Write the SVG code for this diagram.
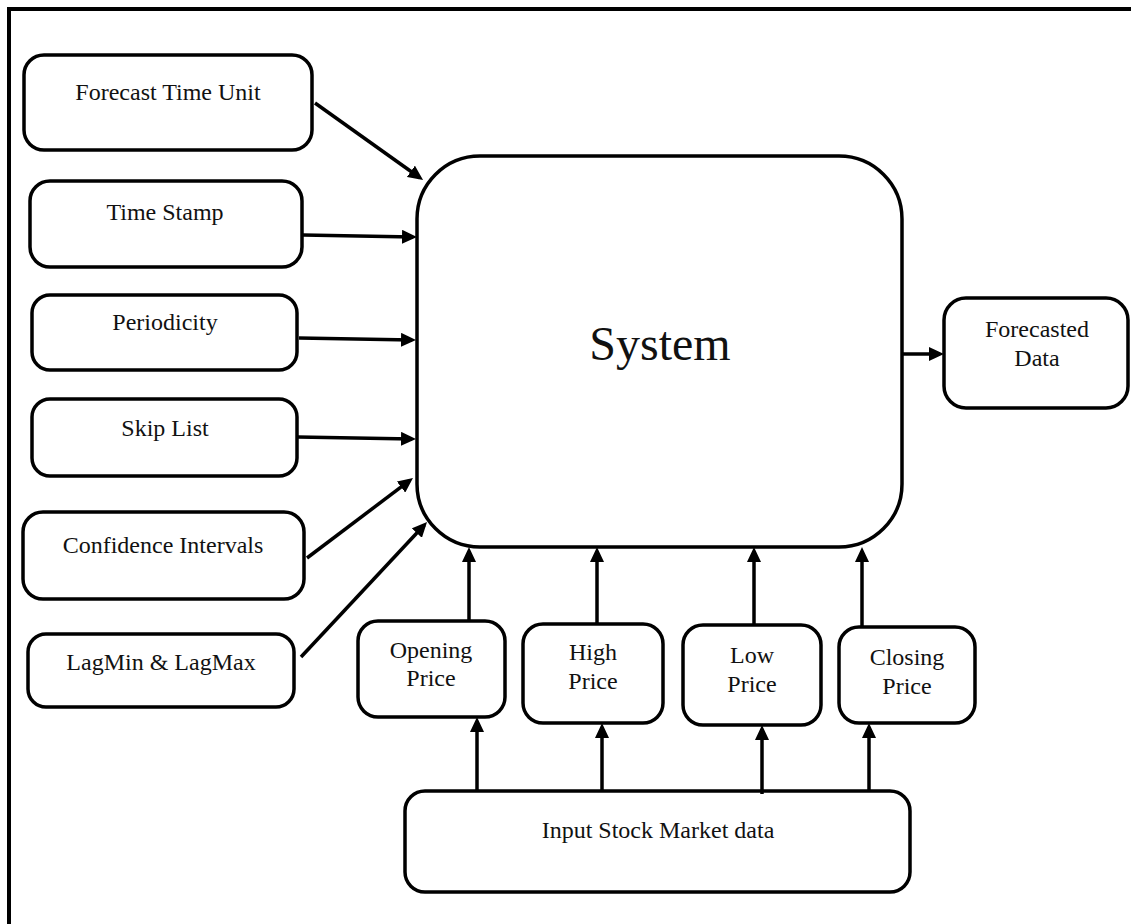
<svg xmlns="http://www.w3.org/2000/svg" width="1131" height="924" viewBox="0 0 1131 924">
<style>
.box{fill:#fff;stroke:#000;stroke-width:3.5}
.sys{fill:#fff;stroke:#000;stroke-width:3.5}
.lbl{font-family:"Liberation Serif","Times New Roman",serif;font-size:24px;fill:#111;text-anchor:middle}
.big{font-family:"Liberation Serif","Times New Roman",serif;font-size:48px;fill:#111;text-anchor:middle}
.c{stroke:#000;stroke-width:3.5;fill:none;marker-end:url(#ah)}
</style>
<defs>
<marker id="ah" markerUnits="userSpaceOnUse" markerWidth="15" markerHeight="14" refX="11" refY="7" orient="auto">
<path d="M0,0 L15,7 L0,14 z" fill="#000"/>
</marker>
</defs>
<rect width="1131" height="924" fill="#fff"/>
<path d="M9,924 L9,9 L1131,9" fill="none" stroke="#000" stroke-width="4"/>

<g id="n-forecast-time-unit"><rect class="box" x="24" y="55" width="288" height="95" rx="20"/><text class="lbl" x="168" y="100">Forecast Time Unit</text></g>
<g id="n-time-stamp"><rect class="box" x="30" y="181" width="272" height="86" rx="20"/><text class="lbl" x="165" y="220">Time Stamp</text></g>
<g id="n-periodicity"><rect class="box" x="32" y="295" width="265" height="75" rx="18"/><text class="lbl" x="165" y="330">Periodicity</text></g>
<g id="n-skip-list"><rect class="box" x="32" y="399" width="265" height="77" rx="18"/><text class="lbl" x="165" y="436">Skip List</text></g>
<g id="n-confidence"><rect class="box" x="23" y="512" width="281" height="87" rx="20"/><text class="lbl" x="163" y="553">Confidence Intervals</text></g>
<g id="n-lag"><rect class="box" x="28" y="634" width="266" height="73" rx="18"/><text class="lbl" x="161" y="670">LagMin &amp; LagMax</text></g>

<g id="n-system"><rect class="sys" x="417" y="156" width="485" height="391" rx="63"/><text class="big" x="660" y="360">System</text></g>
<g id="n-forecasted"><rect class="box" x="944" y="298" width="184" height="110" rx="22"/><text class="lbl" x="1037" y="337">Forecasted</text><text class="lbl" x="1037" y="366">Data</text></g>

<g id="n-opening"><rect class="box" x="358" y="621" width="147" height="96" rx="20"/><text class="lbl" x="431" y="658">Opening</text><text class="lbl" x="431" y="686">Price</text></g>
<g id="n-high"><rect class="box" x="523" y="624" width="140" height="99" rx="20"/><text class="lbl" x="593" y="660">High</text><text class="lbl" x="593" y="689">Price</text></g>
<g id="n-low"><rect class="box" x="683" y="625" width="138" height="100" rx="20"/><text class="lbl" x="752" y="663">Low</text><text class="lbl" x="752" y="692">Price</text></g>
<g id="n-closing"><rect class="box" x="839" y="627" width="136" height="96" rx="20"/><text class="lbl" x="907" y="665">Closing</text><text class="lbl" x="907" y="694">Price</text></g>

<g id="n-input"><rect class="box" x="405" y="791" width="505" height="101" rx="20"/><text class="lbl" x="658" y="838">Input Stock Market data</text></g>

<g id="connectors">
<line class="c" x1="315" y1="103" x2="419.8" y2="177.7"/>
<line class="c" x1="303" y1="235" x2="413" y2="237"/>
<line class="c" x1="299" y1="338" x2="412" y2="340"/>
<line class="c" x1="298" y1="437" x2="412" y2="439"/>
<line class="c" x1="307" y1="558" x2="409.8" y2="480.4"/>
<line class="c" x1="301" y1="657" x2="424.3" y2="525"/>
<line class="c" x1="902" y1="354" x2="940" y2="354"/>
<line class="c" x1="469" y1="621" x2="469" y2="551"/>
<line class="c" x1="597" y1="624" x2="597" y2="551"/>
<line class="c" x1="754" y1="625" x2="754" y2="551"/>
<line class="c" x1="862" y1="627" x2="862" y2="551"/>
<line class="c" x1="477" y1="791" x2="477" y2="721"/>
<line class="c" x1="602" y1="791" x2="602" y2="727"/>
<line class="c" x1="762" y1="794" x2="762" y2="729"/>
<line class="c" x1="869" y1="791" x2="869" y2="727"/>
</g>
</svg>
